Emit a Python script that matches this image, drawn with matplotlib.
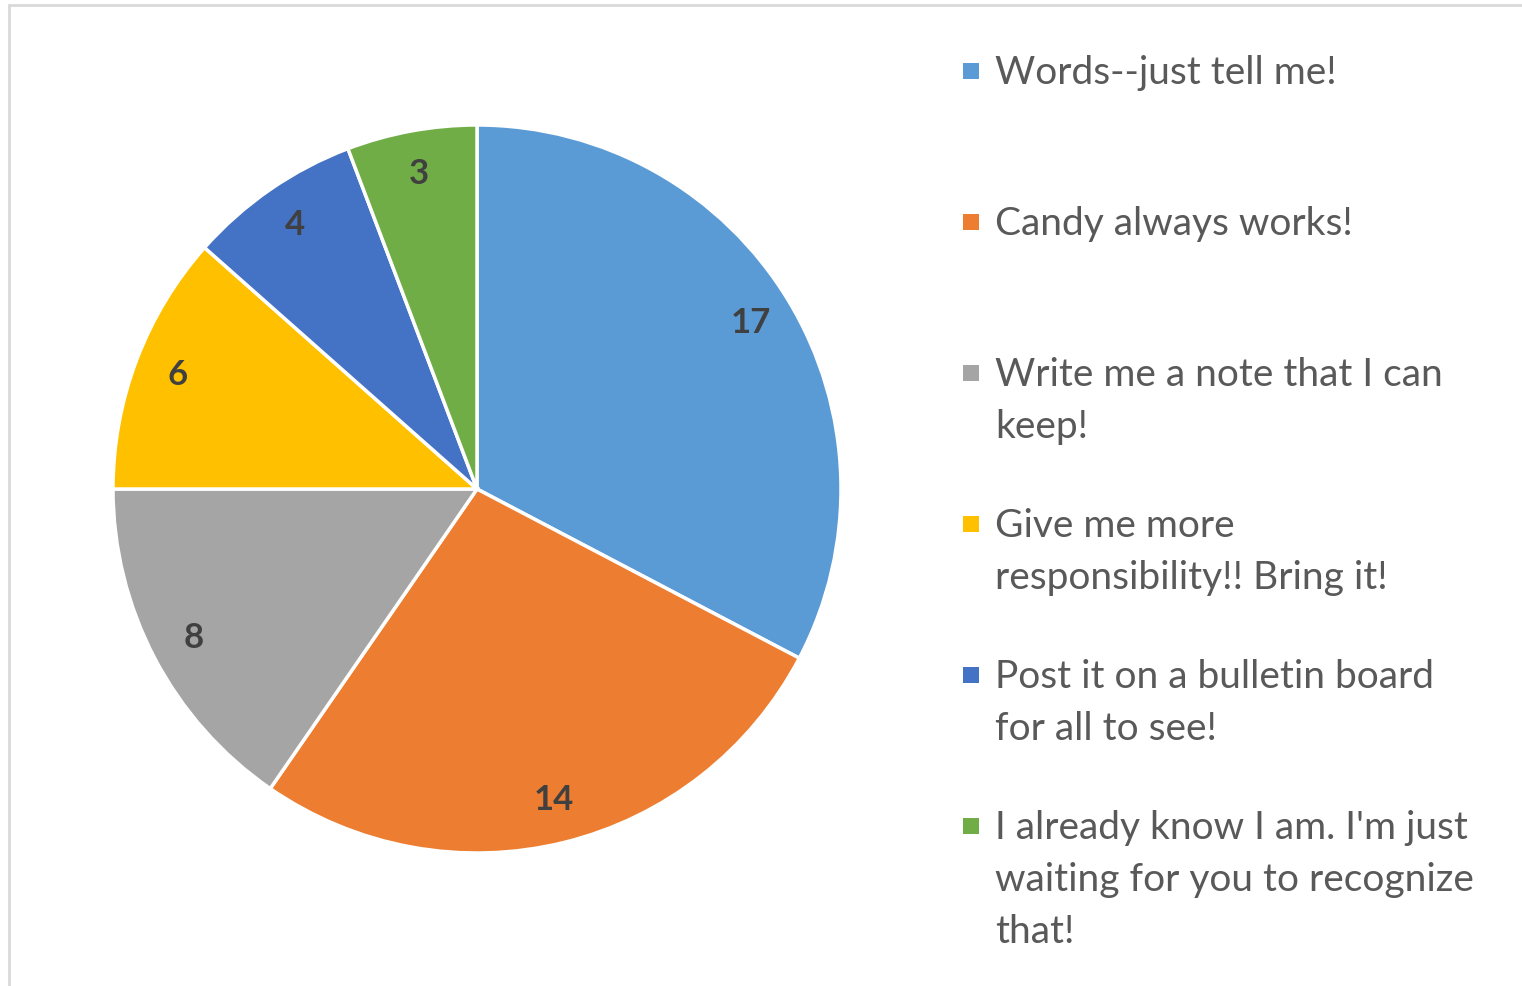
import numpy as np
import matplotlib.pyplot as plt
from matplotlib.patches import Rectangle

# data
labels = ['Words--just tell me!',
          'Candy always works!',
          'Write me a note that I can\nkeep!',
          'Give me more\nresponsibility!! Bring it!',
          'Post it on a bulletin board\nfor all to see!',
          "I already know I am. I'm just\nwaiting for you to recognize\nthat!"]
values = [17, 14, 8, 6, 4, 3]
colors = ['#5B9BD5', '#ED7D31', '#A5A5A5', '#FFC000', '#4472C4', '#70AD47']

W, H = 1522, 986
fig = plt.figure(figsize=(W / 100, H / 100), dpi=100)
plt.rcParams['font.family'] = ['Lato', 'DejaVu Sans']

# light frame like the Excel chart area
fig.patches.append(Rectangle((9 / W, -0.01), 1.1, (H - 5) / H + 0.01, transform=fig.transFigure,
                             fill=False, edgecolor='#D9D9D9', linewidth=2))

cx, cy, r = 477, 489, 364
ax = fig.add_axes([(cx - r) / W, (H - cy - r) / H, 2 * r / W, 2 * r / H])
wedges, _ = ax.pie(values, colors=colors, startangle=90, counterclock=False,
                   wedgeprops=dict(edgecolor='white', linewidth=2.5))
ax.set_xlim(-1, 1)
ax.set_ylim(-1, 1)
ax.set_aspect('equal')
ax.axis('off')

# data labels inside the slices
total = sum(values)
start = 90.0
for v in values:
    mid = np.deg2rad(start - v / total * 360 / 2)
    ax.text(0.88 * np.cos(mid), 0.88 * np.sin(mid), str(v), ha='center', va='center',
            fontsize=25, fontweight='bold', color='#404040')
    start -= v / total * 360

# legend drawn by hand to keep Excel spacing
y0 = 71
for i, (lab, c) in enumerate(zip(labels, colors)):
    y = y0 + i * 151
    fig.patches.append(Rectangle((963 / W, 1 - (y + 8) / H), 16 / W, 16 / H,
                                 transform=fig.transFigure, facecolor=c, edgecolor='none'))
    fig.text(995 / W, 1 - (y - 16) / H, lab, ha='left', va='top', fontsize=28,
             color='#595959', linespacing=1.56)

fig.savefig('out.png', dpi=100)
